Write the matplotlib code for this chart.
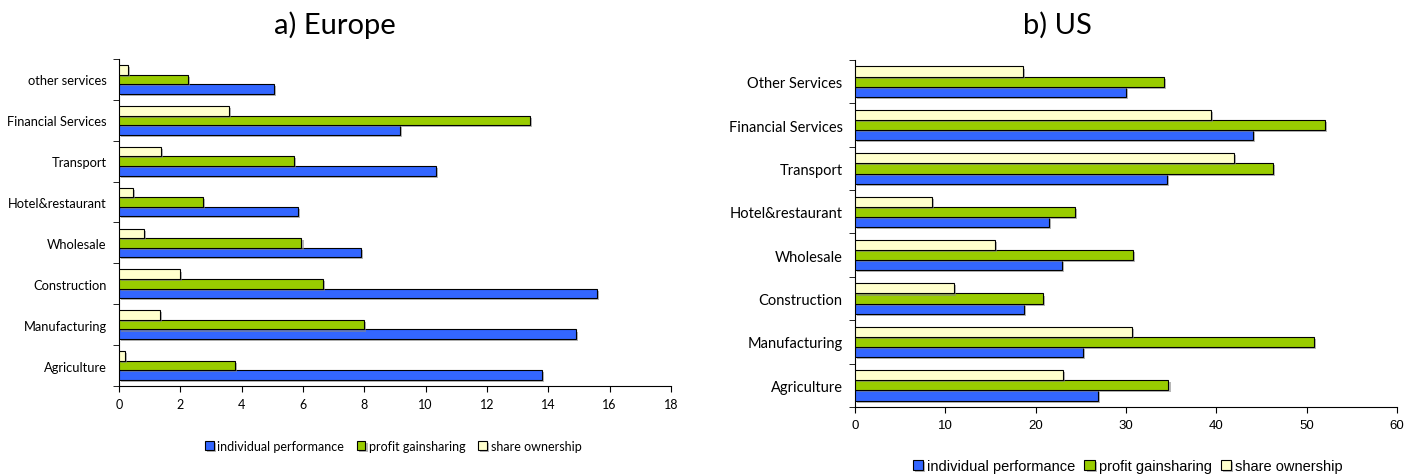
import matplotlib.pyplot as plt
import matplotlib.patheffects as pe
import numpy as np

# sectors, bottom to top
eu_sectors = ['Agriculture', 'Manufacturing', 'Construction', 'Wholesale',
              'Hotel&restaurant', 'Transport', 'Financial Services', 'other services']
us_sectors = ['Agriculture', 'Manufacturing', 'Construction', 'Wholesale',
              'Hotel&restaurant', 'Transport', 'Financial Services', 'Other Services']

# a) Europe
eu_individual = [13.8, 14.9, 15.6, 7.9, 5.85, 10.35, 9.15, 5.05]
eu_profit = [3.77, 8.0, 6.65, 5.95, 2.75, 5.72, 13.4, 2.25]
eu_share = [0.2, 1.33, 1.98, 0.8, 0.45, 1.37, 3.58, 0.3]

# b) US
us_individual = [26.9, 25.2, 18.7, 22.9, 21.5, 34.5, 44.1, 30.0]
us_profit = [34.7, 50.8, 20.8, 30.8, 24.3, 46.3, 52.0, 34.2]
us_share = [23.0, 30.7, 11.0, 15.5, 8.55, 41.9, 39.4, 18.6]

series_names = ['individual performance', 'profit gainsharing', 'share ownership']
colors = ['#3366FF', '#99CC00', '#FFFFCC']

label_font = 'Lato'
num_font_us = 'Liberation Sans'

fig = plt.figure(figsize=(14.17, 4.77), dpi=100)
ax1 = fig.add_axes([0.0840, 0.1887, 0.3895, 0.6855])
ax2 = fig.add_axes([0.6034, 0.1447, 0.3825, 0.7274])

shadow = [pe.SimplePatchShadow(offset=(1.5, -1.5), shadow_rgbFace='#888888', alpha=0.6),
          pe.Normal()]
h = 0.234


def draw(ax, sectors, data, xmax, step, cat_size, tick_font, tick_size):
    y = np.arange(len(sectors))
    handles = []
    for k, (vals, c) in enumerate(zip(data, colors)):
        bars = ax.barh(y + (k - 1) * h, vals, height=h, color=c,
                       edgecolor='black', linewidth=0.8, zorder=3)
        for b in bars:
            b.set_path_effects(shadow)
        handles.append(bars)
    ax.set_xlim(0, xmax)
    ax.set_ylim(-0.5, len(sectors) - 0.5)
    ax.set_xticks(np.arange(0, xmax + 0.1, step))
    ax.set_yticks(y)
    ax.set_yticklabels(sectors, fontsize=cat_size, family=label_font)
    ax.set_yticks(np.arange(-0.5, len(sectors)), minor=True)
    ax.tick_params(axis='y', which='major', length=0, pad=9)
    ax.tick_params(axis='y', which='minor', length=4, color='black')
    ax.tick_params(axis='x', length=4, labelsize=tick_size, pad=5)
    for lab in ax.get_xticklabels():
        lab.set_family(tick_font)
    for s in ['top', 'right']:
        ax.spines[s].set_visible(False)
    for s in ['left', 'bottom']:
        ax.spines[s].set_color('black')
        ax.spines[s].set_linewidth(0.8)
    return handles


h1 = draw(ax1, eu_sectors, [eu_individual, eu_profit, eu_share], 18, 2, 9.25, label_font, 9)
h2 = draw(ax2, us_sectors, [us_individual, us_profit, us_share], 60, 10, 10.5, num_font_us, 9.5)

fig.text(0.2365, 0.947, 'a) Europe', ha='center', va='center', fontsize=21, family=label_font)
fig.text(0.7465, 0.947, 'b) US', ha='center', va='center', fontsize=21, family=label_font)

fig.legend(h1, series_names, loc='center', bbox_to_anchor=(0.2775, 0.063), ncol=3,
           frameon=False, prop={'family': label_font, 'size': 9},
           handlelength=0.7, handleheight=0.7, handletextpad=0.3, columnspacing=1.0)
fig.legend(h2, series_names, loc='center', bbox_to_anchor=(0.796, 0.021), ncol=3,
           frameon=False, prop={'family': num_font_us, 'size': 10.5},
           handlelength=0.7, handleheight=0.7, handletextpad=0.3, columnspacing=0.6)

fig.savefig('out.png', dpi=100)
